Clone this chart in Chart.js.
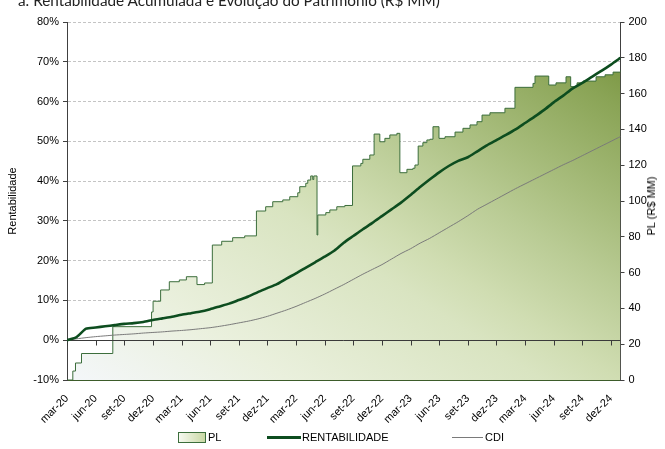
<!DOCTYPE html>
<html>
<head>
<meta charset="utf-8">
<title>Rentabilidade Acumulada e Evolução do Patrimônio</title>
<script src="https://cdn.jsdelivr.net/npm/chart.js@4.4.1/dist/chart.umd.min.js"></script>
<style>
    html, body { margin: 0; padding: 0; background: #fff; }
    #wrap { position: relative; width: 665px; height: 449px; overflow: hidden; font-family: "Liberation Sans", Arial, sans-serif; }
    #chart { position: absolute; left: 0; top: 0; }
    #title { position: absolute; left: 18px; top: -7px; font: 15.3px Lato, sans-serif; line-height: 15px; color: #222; white-space: nowrap; }
    #plTitle { position: absolute; left: 651px; top: 206px; transform: translate(-50%, -50%) rotate(-90deg); font-size: 11px; white-space: nowrap; color: #000; }
    .leg { position: absolute; font-size: 11px; line-height: 12px; color: #000; white-space: nowrap; }
    .leg-box { position: absolute; left: 178px; top: 432px; width: 26px; height: 9px; border: 1px solid #3c6e3c;
        background: linear-gradient(to right, #f6f9f0, #c9d8a4); }
    .leg-line { position: absolute; }
</style>
</head>
<body>
<div id="wrap">
    <canvas id="chart" width="665" height="449"></canvas>
    <div id="title">a. Rentabilidade Acumulada e Evolução do Patrimônio (R$ MM)</div>
    <div id="plTitle">PL (R$ MM)</div>
    <div class="leg-box"></div>
    <div class="leg" style="left:208px; top:431px;">PL</div>
    <div class="leg-line" style="left:267px; top:436px; width:34px; height:3px; background:#0d4d1f;"></div>
    <div class="leg" style="left:302px; top:431px;">RENTABILIDADE</div>
    <div class="leg-line" style="left:452px; top:437px; width:31px; height:1px; background:#7a7a7a;"></div>
    <div class="leg" style="left:485px; top:431px;">CDI</div>
</div>
<script>
// months counted from mar-20 (0) to the end of dez-24 (58)
const tickMonths = [0, 3, 6, 9, 12, 15, 18, 21, 24, 27, 30, 33, 36, 39, 42, 45, 48, 51, 54, 57];
const tickLabels = ['mar-20', 'jun-20', 'set-20', 'dez-20', 'mar-21', 'jun-21', 'set-21', 'dez-21',
    'mar-22', 'jun-22', 'set-22', 'dez-22', 'mar-23', 'jun-23', 'set-23', 'dez-23',
    'mar-24', 'jun-24', 'set-24', 'dez-24'];

// monthly cumulative return (%), one value per month from mar-20
const rentValues = [0, 0.8, 2.9, 3.2, 3.5, 3.8, 4.1, 4.3, 4.6, 5.1,
    5.5, 5.9, 6.4, 6.8, 7.2, 7.8, 8.5, 9.2, 10.1, 11.0,
    12.1, 13.1, 14.1, 15.5, 16.8, 18.2, 19.6, 21.0, 22.5, 24.5,
    26.2, 27.9, 29.5, 31.2, 32.9, 34.6, 36.5, 38.5, 40.4, 42.2,
    43.8, 45.1, 46.0, 47.5, 49.0, 50.3, 51.6, 53.0, 54.6, 56.2,
    57.9, 59.8, 61.5, 63.3, 64.7, 66.2, 67.7, 69.3, 71.0];

const cdiValues = [0, 0.35, 0.65, 0.9, 1.1, 1.3, 1.45, 1.6, 1.8, 1.95,
    2.1, 2.3, 2.45, 2.65, 2.9, 3.15, 3.5, 3.9, 4.35, 4.8,
    5.35, 6.0, 6.8, 7.6, 8.5, 9.5, 10.5, 11.6, 12.8, 14.0,
    15.3, 16.6, 17.8, 19.0, 20.4, 21.8, 23.0, 24.4, 25.6, 27.0,
    28.4, 29.8, 31.3, 32.9, 34.2, 35.5, 36.8, 38.1, 39.3, 40.5,
    41.7, 42.9, 44.1, 45.2, 46.4, 47.6, 48.8, 50.0, 51.2];

// PL (R$ MM): month where each level starts, and the level
const plMonths = [0, 0.61, 0.89, 1.52, 4.80, 8.86, 9.02, 9.81, 10.72, 11.77,
    12.51, 13.62, 14.42, 15.23, 16.21, 17.36, 18.62, 19.85, 20.82, 21.56,
    22.61, 23.34, 24.18, 24.39, 25.02, 25.23, 25.54, 25.75, 25.86, 26.20,
    26.28, 27.12, 27.54, 28.27, 29.11, 29.92, 30.79, 31.00, 31.73, 32.18,
    32.78, 33.31, 33.83, 34.57, 34.88, 35.62, 36.25, 36.46, 36.80, 37.29,
    37.71, 38.03, 38.35, 38.98, 39.61, 40.66, 41.49, 42.23, 42.96, 43.49,
    44.32, 45.89, 46.94, 48.83, 49.04, 50.48, 51.24, 52.29, 52.78, 53.45,
    54.08, 55.44, 56.38, 57.22, 58.0];
const plValues = [0, 5, 9.5, 14.8, 29.8, 38, 44, 50.3, 54.9, 55.9,
    57.7, 53.3, 54.2, 75.4, 77.5, 79.5, 80.5, 94.4, 96.8, 99.6,
    100.6, 102.4, 104.6, 108, 109.9, 111.7, 114, 112, 114, 81,
    92.2, 93.5, 95, 96.8, 97.5, 119.6, 121, 123.3, 125.7, 137.4,
    133.1, 135, 136.9, 137.8, 115.8, 117.7, 118.3, 120.1, 130.7, 132.6,
    134.1, 134.5, 141.5, 135, 135.9, 138.5, 140.6, 142.5, 144.3, 148,
    149.3, 151.8, 163.5, 165.7, 169.8, 164.8, 166, 169.4, 163.9, 166,
    167, 169.4, 170.5, 172, 173];

function plGradient(context) {
    const {ctx, chartArea} = context.chart;
    if (!chartArea) return '#dfe8c8';
    const w = chartArea.right - chartArea.left;
    const h = chartArea.bottom - chartArea.top;
    const k = 2 * w * h / (w * w + h * h);
    const g = ctx.createLinearGradient(chartArea.left, chartArea.bottom,
        chartArea.left + h * k, chartArea.bottom - w * k);
    g.addColorStop(0, '#f4f7fa');
    g.addColorStop(0.2, '#eaf0dd');
    g.addColorStop(0.43, '#d9e4c1');
    g.addColorStop(0.5, '#d0ddb2');
    g.addColorStop(0.63, '#b9cb94');
    g.addColorStop(0.72, '#a8bd7d');
    g.addColorStop(0.88, '#8aa456');
    g.addColorStop(1, '#6f8c33');
    return g;
}

// 0% axis line with its tick marks, drawn over the PL area
const zeroAxis = {
    id: 'zeroAxis',
    afterDatasetDraw(chart, args) {
        if (args.index !== 0) return;
        const {ctx, chartArea, scales} = chart;
        const y0 = Math.round(scales.y.getPixelForValue(0)) + 0.5;
        ctx.save();
        ctx.strokeStyle = '#3a3a3a';
        ctx.lineWidth = 1;
        ctx.beginPath();
        ctx.moveTo(chartArea.left, y0);
        ctx.lineTo(chartArea.right, y0);
        scales.x.ticks.forEach(t => {
            const x = Math.round(scales.x.getPixelForValue(t.value)) + 0.5;
            ctx.moveTo(x, y0);
            ctx.lineTo(x, y0 + 5);
        });
        ctx.stroke();
        ctx.restore();
    }
};

Chart.defaults.font.family = '"Liberation Sans", Arial, sans-serif';
Chart.defaults.font.size = 11;
Chart.defaults.color = '#000';

new Chart(document.getElementById('chart'), {
    type: 'line',
    data: {
        datasets: [
            {
                label: 'PL',
                yAxisID: 'y1',
                data: plMonths.map((m, i) => ({x: m, y: plValues[i]})),
                stepped: 'before',
                borderColor: '#3c6e3c',
                borderWidth: 1,
                backgroundColor: plGradient,
                fill: 'start',
                pointRadius: 0,
                order: 3
            },
            {
                label: 'RENTABILIDADE',
                yAxisID: 'y',
                data: rentValues.map((v, i) => ({x: i, y: v})),
                borderColor: '#0d4d1f',
                borderWidth: 2.6,
                tension: 0.2,
                fill: false,
                pointRadius: 0,
                order: 1
            },
            {
                label: 'CDI',
                yAxisID: 'y',
                data: cdiValues.map((v, i) => ({x: i, y: v})),
                borderColor: '#7a7a7a',
                borderWidth: 1,
                tension: 0.2,
                fill: false,
                pointRadius: 0,
                order: 2
            }
        ]
    },
    options: {
        responsive: false,
        maintainAspectRatio: false,
        animation: false,
        layout: { padding: { top: 22, left: 0, right: 0, bottom: 0 } },
        plugins: {
            legend: { display: false },
            tooltip: { enabled: false }
        },
        scales: {
            x: {
                type: 'linear',
                min: 0,
                max: 58,
                afterBuildTicks: scale => { scale.ticks = tickMonths.map(v => ({value: v})); },
                afterFit: scale => { scale.height = 69; },
                grid: { display: false },
                border: { color: '#3d5c2a', width: 1 },
                ticks: {
                    autoSkip: false,
                    maxRotation: 45,
                    minRotation: 45,
                    padding: 4,
                    callback: v => tickLabels[tickMonths.indexOf(v)]
                }
            },
            y: {
                position: 'left',
                min: -10,
                max: 80,
                afterFit: scale => { scale.width = 67; },
                ticks: { stepSize: 10, padding: 4, callback: v => v + '%' },
                grid: {
                    color: c => (c.tick && c.tick.value === 0) ? 'rgba(0,0,0,0)' : '#c4c4c4',
                    tickColor: '#404040',
                    tickLength: 4,
                    tickBorderDash: []
                },
                border: { color: '#404040', dash: [3, 2] },
                title: { display: true, text: 'Rentabilidade', font: { size: 11 }, padding: { top: 6, bottom: 0 } }
            },
            y1: {
                position: 'right',
                min: 0,
                max: 200,
                afterFit: scale => { scale.width = 44.5; },
                ticks: { stepSize: 20, padding: 4 },
                grid: { drawOnChartArea: false, tickColor: '#404040', tickLength: 4 },
                border: { color: '#404040' }
            }
        }
    },
    plugins: [zeroAxis]
});
</script>
</body>
</html>
